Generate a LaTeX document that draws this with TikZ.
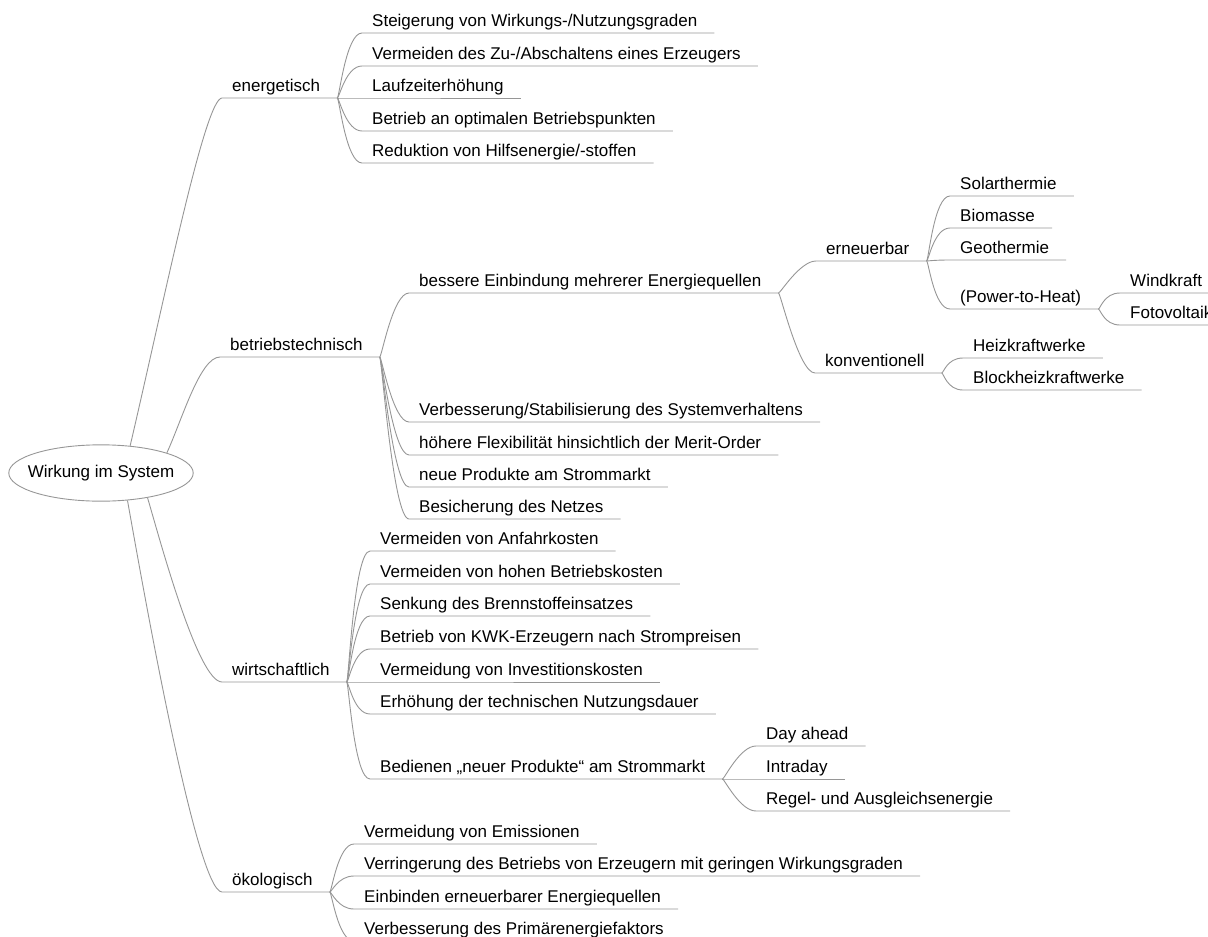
\documentclass[tikz,border=0pt]{standalone}
\usepackage{fontspec}
\setmainfont{Liberation Sans}
\usetikzlibrary{shapes.geometric}
\definecolor{linegray}{RGB}{150,150,150}
\newcommand{\mapfont}{\fontsize{17pt}{20pt}\selectfont}

\begin{document}
\begin{tikzpicture}[x=1pt,y=-1pt,
  root/.style={ellipse,draw=linegray,line width=0.9pt,inner xsep=-8pt,
               inner ysep=12pt,font=\mapfont},
  topic/.style={anchor=south west,inner xsep=10pt,inner ysep=2pt,
                text height=13pt,text depth=4pt,font=\mapfont},
  link/.style={draw=linegray,line width=0.9pt},
  branch/.style={to path={([xshift=7pt]\tikztostart.south east)
      .. controls +(2,0) and +(-16,0) .. (\tikztotarget.south west)
      -- ([xshift=7pt]\tikztotarget.south east)}}]
\useasboundingbox (0,0) rectangle (1208,937);

\node[root] (root) at (101,473) {Wirkung im System};

% energetisch
\node[topic] (energ) at (222,98)  {energetisch};
\node[topic] (steig) at (362,33)  {Steigerung von Wirkungs-/Nutzungsgraden};
\node[topic] (zuab)  at (362,66)  {Vermeiden des Zu-/Abschaltens eines Erzeugers};
\node[topic] (lauf)  at (362,98)  {Laufzeiterhöhung};
\node[topic] (optp)  at (362,131) {Betrieb an optimalen Betriebspunkten};
\node[topic] (hilf)  at (362,163) {Reduktion von Hilfsenergie/-stoffen};

% betriebstechnisch
\node[topic] (betr)  at (220,357) {betriebstechnisch};
\node[topic] (quel)  at (409,293) {bessere Einbindung mehrerer Energiequellen};
\node[topic] (syst)  at (409,422) {Verbesserung/Stabilisierung des Systemverhaltens};
\node[topic] (flex)  at (409,455) {höhere Flexibilität hinsichtlich der Merit-Order};
\node[topic] (prod)  at (409,487) {neue Produkte am Strommarkt};
\node[topic] (netz)  at (409,519) {Besicherung des Netzes};

\node[topic] (erneu) at (816,261) {erneuerbar};
\node[topic] (konv)  at (815,373) {konventionell};
\node[topic] (solar) at (950,196) {Solarthermie};
\node[topic] (bio)   at (950,228) {Biomasse};
\node[topic] (geo)   at (950,260) {Geothermie};
\node[topic] (pth)   at (950,309) {(Power-to-Heat)};
\node[topic] (wind)  at (1120,293) {Windkraft};
\node[topic] (pv)    at (1120,325) {Fotovoltaik};
\node[topic] (hkw)   at (963,358) {Heizkraftwerke};
\node[topic] (bhkw)  at (963,390) {Blockheizkraftwerke};

% wirtschaftlich
\node[topic] (wirt)  at (222,682) {wirtschaftlich};
\node[topic] (anf)   at (370,551) {Vermeiden von Anfahrkosten};
\node[topic] (bkost) at (370,584) {Vermeiden von hohen Betriebskosten};
\node[topic] (brenn) at (370,616) {Senkung des Brennstoffeinsatzes};
\node[topic] (kwk)   at (370,649) {Betrieb von KWK-Erzeugern nach Strompreisen};
\node[topic] (invest) at (370,682) {Vermeidung von Investitionskosten};
\node[topic] (dauer) at (370,714) {Erhöhung der technischen Nutzungsdauer};
\node[topic] (bedien) at (370,779) {Bedienen „neuer Produkte“ am Strommarkt};
\node[topic] (dayah) at (756,746) {Day ahead};
\node[topic] (intra) at (756,779) {Intraday};
\node[topic] (regel) at (756,811) {Regel- und Ausgleichsenergie};

% oekologisch
\node[topic] (oeko)  at (222,892) {ökologisch};
\node[topic] (emis)  at (354,844) {Vermeidung von Emissionen};
\node[topic] (wirkg) at (354,876) {Verringerung des Betriebs von Erzeugern mit geringen Wirkungsgraden};
\node[topic] (einb)  at (354,909) {Einbinden erneuerbarer Energiequellen};
\node[topic] (prim)  at (354,941) {Verbesserung des Primärenergiefaktors};

% root connectors
\draw[link] (root.43) .. controls (164,301) and (205,98) .. (energ.south west)
  -- ([xshift=7pt]energ.south east);
\draw[link] (root.17) .. controls (182,420) and (200,357) .. (betr.south west)
  -- ([xshift=7pt]betr.south east);
\draw[link] (root.-28) .. controls (160,540) and (198,682) .. (wirt.south west)
  -- ([xshift=7pt]wirt.south east);
\draw[link] (root.-46) .. controls (140,570) and (196,892) .. (oeko.south west)
  -- ([xshift=7pt]oeko.south east);

% branches
\foreach \c in {steig,zuab,lauf,optp,hilf}
  \draw[link] (energ) to[branch] (\c);
\foreach \c in {quel,syst,flex,prod,netz}
  \draw[link] (betr) to[branch] (\c);
\foreach \c in {erneu,konv}
  \draw[link] (quel) to[branch] (\c);
\foreach \c in {solar,bio,geo,pth}
  \draw[link] (erneu) to[branch] (\c);
\foreach \c in {wind,pv}
  \draw[link] (pth) to[branch] (\c);
\foreach \c in {hkw,bhkw}
  \draw[link] (konv) to[branch] (\c);
\foreach \c in {anf,bkost,brenn,kwk,invest,dauer,bedien}
  \draw[link] (wirt) to[branch] (\c);
\foreach \c in {dayah,intra,regel}
  \draw[link] (bedien) to[branch] (\c);
\foreach \c in {emis,wirkg,einb,prim}
  \draw[link] (oeko) to[branch] (\c);
\end{tikzpicture}
\end{document}
